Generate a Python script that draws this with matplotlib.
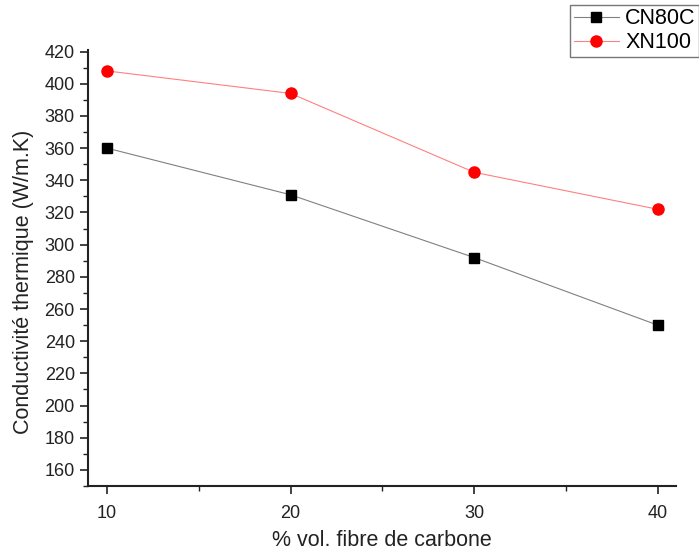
import matplotlib
matplotlib.use("Agg")
import matplotlib.pyplot as plt
from matplotlib.ticker import MultipleLocator

plt.rcParams['font.family'] = ['Liberation Sans', 'DejaVu Sans']

x_vals = [10, 20, 30, 40]
cn80c = [360, 331, 292, 250]
xn100 = [408, 394, 345, 322]

W, H = 699, 553
fig = plt.figure(figsize=(W/100, H/100), dpi=100)
ax = fig.add_axes([88/W, 1-486/H, (676-88)/W, (486-50)/H])

ax.plot(x_vals, cn80c, color='#808080', lw=0.8, marker='s', ms=7, mfc='black', mec='black', label='CN80C')
ax.plot(x_vals, xn100, color='#ff8080', lw=0.8, marker='o', ms=8, mfc='red', mec='red', label='XN100')

ax.set_xlim(8.96, 41.0)
ax.set_ylim(150, 421)
ax.set_xticks([10, 20, 30, 40])
ax.set_yticks(list(range(160, 421, 20)))
ax.xaxis.set_minor_locator(MultipleLocator(5))
ax.yaxis.set_minor_locator(MultipleLocator(10))
for s in ['top', 'right']:
    ax.spines[s].set_visible(False)
for s in ['left', 'bottom']:
    ax.spines[s].set_linewidth(1.5)
    ax.spines[s].set_color('#222222')
ax.tick_params(which='major', direction='out', length=6, width=1.2, labelsize=13, colors='#222222')
ax.tick_params(axis='x', which='major', pad=8)
ax.tick_params(which='minor', direction='out', length=3.5, width=1.0, colors='#222222')

fig.text(382/W, 1-541/H, '% vol. fibre de carbone', fontsize=15.5, ha='center', va='center', color='#222222')
fig.text(24/W, 1-282/H, 'Conductivité thermique (W/m.K)', fontsize=15.5, ha='center', va='center',
         rotation=90, color='#222222')

leg = fig.legend(loc='upper right', bbox_to_anchor=(699/W, 1-5/H), fontsize=15.5,
                 frameon=True, fancybox=False, edgecolor='#555555', handlelength=2.1,
                 borderpad=0.15, labelspacing=0.15, handletextpad=0.3, borderaxespad=0)
leg.get_frame().set_linewidth(1.0)

fig.savefig('out.png', dpi=100)
